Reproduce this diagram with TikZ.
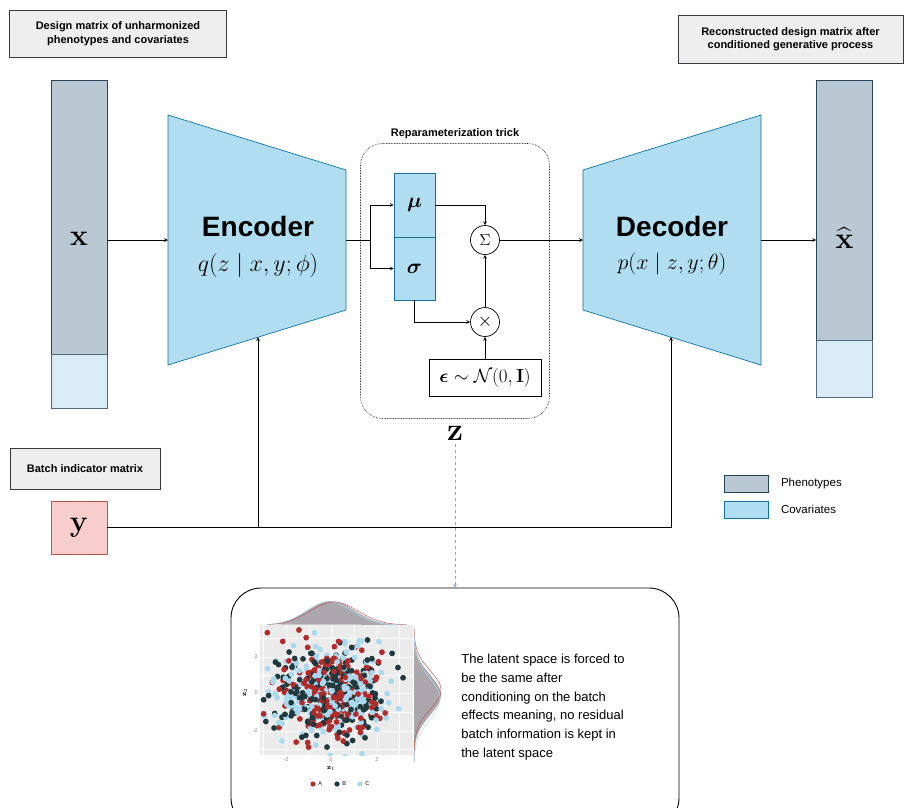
\RequirePackage{fix-cm}
\documentclass[tikz,border=0pt]{standalone}
\usepackage{amsmath,bm}
\usepackage[no-math]{fontspec}
\setmainfont{Liberation Sans}
\usepackage{tikz}
\usetikzlibrary{shapes,backgrounds,arrows,positioning}

\definecolor{phenofill}{HTML}{BAC8D3}
\definecolor{phenoline}{HTML}{23445D}
\definecolor{covfill}{HTML}{B1DDF0}
\definecolor{covline}{HTML}{10739E}
\definecolor{covlight}{HTML}{DAEBF8}
\definecolor{tagfill}{HTML}{EEEEEE}
\definecolor{tagline}{HTML}{36393D}
\definecolor{batchfill}{HTML}{F8CECC}
\definecolor{batchline}{HTML}{B85450}
\definecolor{zlink}{HTML}{7EA6E0}
\definecolor{batchA}{HTML}{B22A2A}
\definecolor{batchB}{HTML}{1E3A3F}
\definecolor{batchC}{HTML}{A9D9EE}
\definecolor{densgray}{HTML}{9C989E}
\definecolor{panelgray}{HTML}{EBEBEB}

\begin{document}
\begin{tikzpicture}[x=1pt,y=-1pt,>=stealth,line width=0.7pt,
  tag/.style={draw=tagline,fill=tagfill,align=center,inner sep=0pt,
    font=\fontsize{11}{13.5}\selectfont\bfseries},
  phenocell/.style={draw=phenoline,fill=phenofill,inner sep=0pt},
  covcell/.style={draw=phenoline!80,fill=covlight,inner sep=0pt},
  netshape/.style={draw=covline,fill=covfill},
  paramcell/.style={draw=covline,fill=covfill,inner sep=0pt,minimum width=41},
  opcircle/.style={draw,circle,minimum size=29,inner sep=0pt},
  bigtitle/.style={font=\fontsize{28}{32}\selectfont\bfseries},
  bigletter/.style={font=\fontsize{30}{32}\selectfont},
  dot/.style={circle,inner sep=0pt,minimum size=5.2}]

\useasboundingbox (0,0) rectangle (905,807);

% input matrix
\node[tag,minimum width=217,minimum height=47] (tagx) at (118,33.5)
  {Design matrix of unharmonized\\phenotypes and covariates};
\node[phenocell,minimum width=56,minimum height=274] (xcol) at (79,217) {};
\node[covcell,minimum width=56,minimum height=54,below=0pt of xcol] (xcov) {};
\node[bigletter] (xlab) at (79,239) {$\mathbf{x}$};

% encoder
\draw[netshape] (168,115) -- (346,170) -- (346,310) -- (168,365) -- cycle;
\coordinate (enc-w) at (168,240);
\coordinate (enc-e) at (346,240);
\coordinate (enc-s) at (258,337);
\node[bigtitle] (enctitle) at (258,226) {Encoder};
\node[font=\fontsize{24}{26}\selectfont] (encq) at (258,265) {$q(z\mid x,y;\phi)$};

% reparameterization trick
\node[draw,densely dotted,line width=0.6pt,rounded corners=22,
  minimum width=189,minimum height=275] (rep) at (455,281) {};
\node[font=\fontsize{11}{13}\selectfont\bfseries] (reptitle) at (455,134)
  {Reparameterization trick};
\node[paramcell,minimum height=64,font=\fontsize{21}{22}\selectfont] (mu) at (414.5,205) {$\bm{\mu}$};
\node[paramcell,minimum height=63,font=\fontsize{21}{22}\selectfont] (sigma) at (414.5,268.5) {$\bm{\sigma}$};
\node[opcircle,font=\fontsize{16}{17}\selectfont] (sum) at (485,240) {$\Sigma$};
\node[opcircle,font=\fontsize{19}{20}\selectfont] (times) at (485,322) {$\times$};
\node[draw,minimum width=112,minimum height=37,font=\fontsize{19}{21}\selectfont] (eps) at (485,378)
  {$\bm{\epsilon}\sim\mathcal{N}(0,\mathbf{I})$};
\node[font=\fontsize{32}{34}\selectfont] (zlab) at (455,433) {$\mathbf{z}$};

% decoder
\draw[netshape] (583,170) -- (761,115) -- (761,365) -- (583,310) -- cycle;
\coordinate (dec-w) at (583,240);
\coordinate (dec-e) at (761,240);
\coordinate (dec-s) at (671,337);
\node[bigtitle] (dectitle) at (672,226) {Decoder};
\node[font=\fontsize{22}{24}\selectfont] (decp) at (672,264) {$p(x\mid z,y;\theta)$};

% output matrix
\node[tag,minimum width=225,minimum height=48] (tagxhat) at (790.5,39)
  {Reconstructed design matrix after\\conditioned generative process};
\node[phenocell,minimum width=56,minimum height=260] (xhatcol) at (844.5,210) {};
\node[covcell,minimum width=56,minimum height=57,below=0pt of xhatcol] (xhatcov) {};
\node[bigletter] (xhatlab) at (844.5,238) {$\widehat{\mathbf{x}}$};

% batch indicator
\node[tag,minimum width=150,minimum height=41] (tagy) at (85,468.5) {Batch indicator matrix};
\node[draw=batchline,fill=batchfill,minimum width=56,minimum height=53,
  bigletter] (y) at (79,527.5) {$\mathbf{y}$};

% legend
\node[phenocell,minimum width=44,minimum height=17] (legpheno) at (746,483.5) {};
\node[right=9pt of legpheno,font=\fontsize{11.5}{13}\selectfont] (legphenotext) {Phenotypes};
\node[draw=covline,fill=covfill,minimum width=44,minimum height=17] (legcov) at (746,509.5) {};
\node[right=9pt of legcov,font=\fontsize{11.5}{13}\selectfont] (legcovtext) {Covariates};

% connectors
\draw[->] (xcol.east |- enc-w) -- (enc-w);
\draw (enc-e) -- (370,240) coordinate (split);
\draw[->] (split) |- (mu.west);
\draw[->] (split) |- (sigma.west);
\draw[->] (mu.east) -| (sum.north);
\draw[->] (sigma.south) |- (times.west);
\draw[->] (eps.north) -- (times.south);
\draw[->] (times.north) -- (sum.south);
\draw[->] (sum.east) -- (dec-w);
\draw[->] (dec-e) -- (xhatcol.west |- dec-e);
\draw[->] (y.east) -| (enc-s);
\draw[->] (y.east) -| (dec-s);

% latent space panel
\node[draw,line width=0.9pt,rounded corners=30,minimum width=448,minimum height=240] (latent) at (455,708) {};
\draw[->,dashed,zlink] (zlab.south) -- (latent.north);

% densities
\fill[densgray,opacity=0.85] plot[domain=267:407,samples=60]
  (\x,{625-24*exp(0-((\x-331)/33)^2)}) -- cycle;
\draw[batchA!80,line width=0.5pt] plot[domain=267:407,samples=60]
  (\x,{625-23*exp(0-((\x-334)/34)^2)});
\draw[batchC,line width=0.5pt] plot[domain=267:407,samples=60]
  (\x,{625-23.5*exp(0-((\x-329)/32)^2)});
\fill[densgray,opacity=0.85] plot[domain=628:762,samples=60]
  ({414+27*exp(0-((\x-695)/28)^2)},\x) -- cycle;
\draw[batchA!80,line width=0.5pt] plot[domain=628:762,samples=60]
  ({414+27*exp(0-((\x-690)/27)^2)},\x);
\draw[batchC,line width=0.5pt] plot[domain=628:762,samples=60]
  ({414+26*exp(0-((\x-699)/29)^2)},\x);

% scatter panel
\fill[panelgray] (260,625) rectangle (413,755);
\foreach \gx in {263.5,309,354,399.5} \draw[white,line width=0.3pt] (\gx,625) -- (\gx,755);
\foreach \gy in {638.5,675,712,749.5} \draw[white,line width=0.3pt] (260,\gy) -- (413,\gy);
\foreach \gx in {286,331,377} \draw[white,line width=0.6pt] (\gx,625) -- (\gx,755);
\foreach \gy in {657,693,731} \draw[white,line width=0.6pt] (260,\gy) -- (413,\gy);
\begin{scope}
\clip (260,625) rectangle (413,755);
\pgfmathsetseed{4711}
\foreach \i in {1,...,210}{
  \pgfmathsetmacro\ax{331+24*(rand+rand+rand+rand)}
  \pgfmathsetmacro\ay{693-19.5*(rand+rand+rand+rand)}
  \fill[batchA] (\ax,\ay) circle (2.9);
  \pgfmathsetmacro\bx{331+24*(rand+rand+rand+rand)}
  \pgfmathsetmacro\by{693-19.5*(rand+rand+rand+rand)}
  \fill[batchB] (\bx,\by) circle (2.9);
  \pgfmathsetmacro\cx{331+24*(rand+rand+rand+rand)}
  \pgfmathsetmacro\cy{693-19.5*(rand+rand+rand+rand)}
  \fill[batchC] (\cx,\cy) circle (2.9);
}
\end{scope}
\foreach \tv/\ty in {2/657,0/693,-2/731}
  \node[gray,font=\fontsize{5.5}{6}\selectfont,anchor=east,inner sep=1pt] (ytick\ty) at (259,\ty) {\tv};
\foreach \tv/\tx in {-2/286,0/331,2/377}
  \node[gray,font=\fontsize{5.5}{6}\selectfont,anchor=north,inner sep=1pt] (xtick\tx) at (\tx,756) {\tv};
\node[font=\fontsize{7}{8}\selectfont] (zonelab) at (331,768) {$\mathbf{z}_1$};
\node[font=\fontsize{7}{8}\selectfont,rotate=90] (ztwolab) at (245,693) {$\mathbf{z}_2$};
\node[dot,fill=batchA] (keyA) at (313,784) {};
\node[font=\fontsize{5.5}{6}\selectfont,right=1pt of keyA,inner sep=1pt] (keyAtext) {A};
\node[dot,fill=batchB] (keyB) at (337,784) {};
\node[font=\fontsize{5.5}{6}\selectfont,right=1pt of keyB,inner sep=1pt] (keyBtext) {B};
\node[dot,fill=batchC] (keyC) at (360,784) {};
\node[font=\fontsize{5.5}{6}\selectfont,right=1pt of keyC,inner sep=1pt] (keyCtext) {C};

\node[anchor=west,align=left,inner sep=0pt,font=\fontsize{13}{18.7}\selectfont] (latenttext) at (461,707)
  {The latent space is forced to\\be the same after\\conditioning on the batch\\effects meaning, no residual\\batch information is kept in\\the latent space};

\end{tikzpicture}
\end{document}
